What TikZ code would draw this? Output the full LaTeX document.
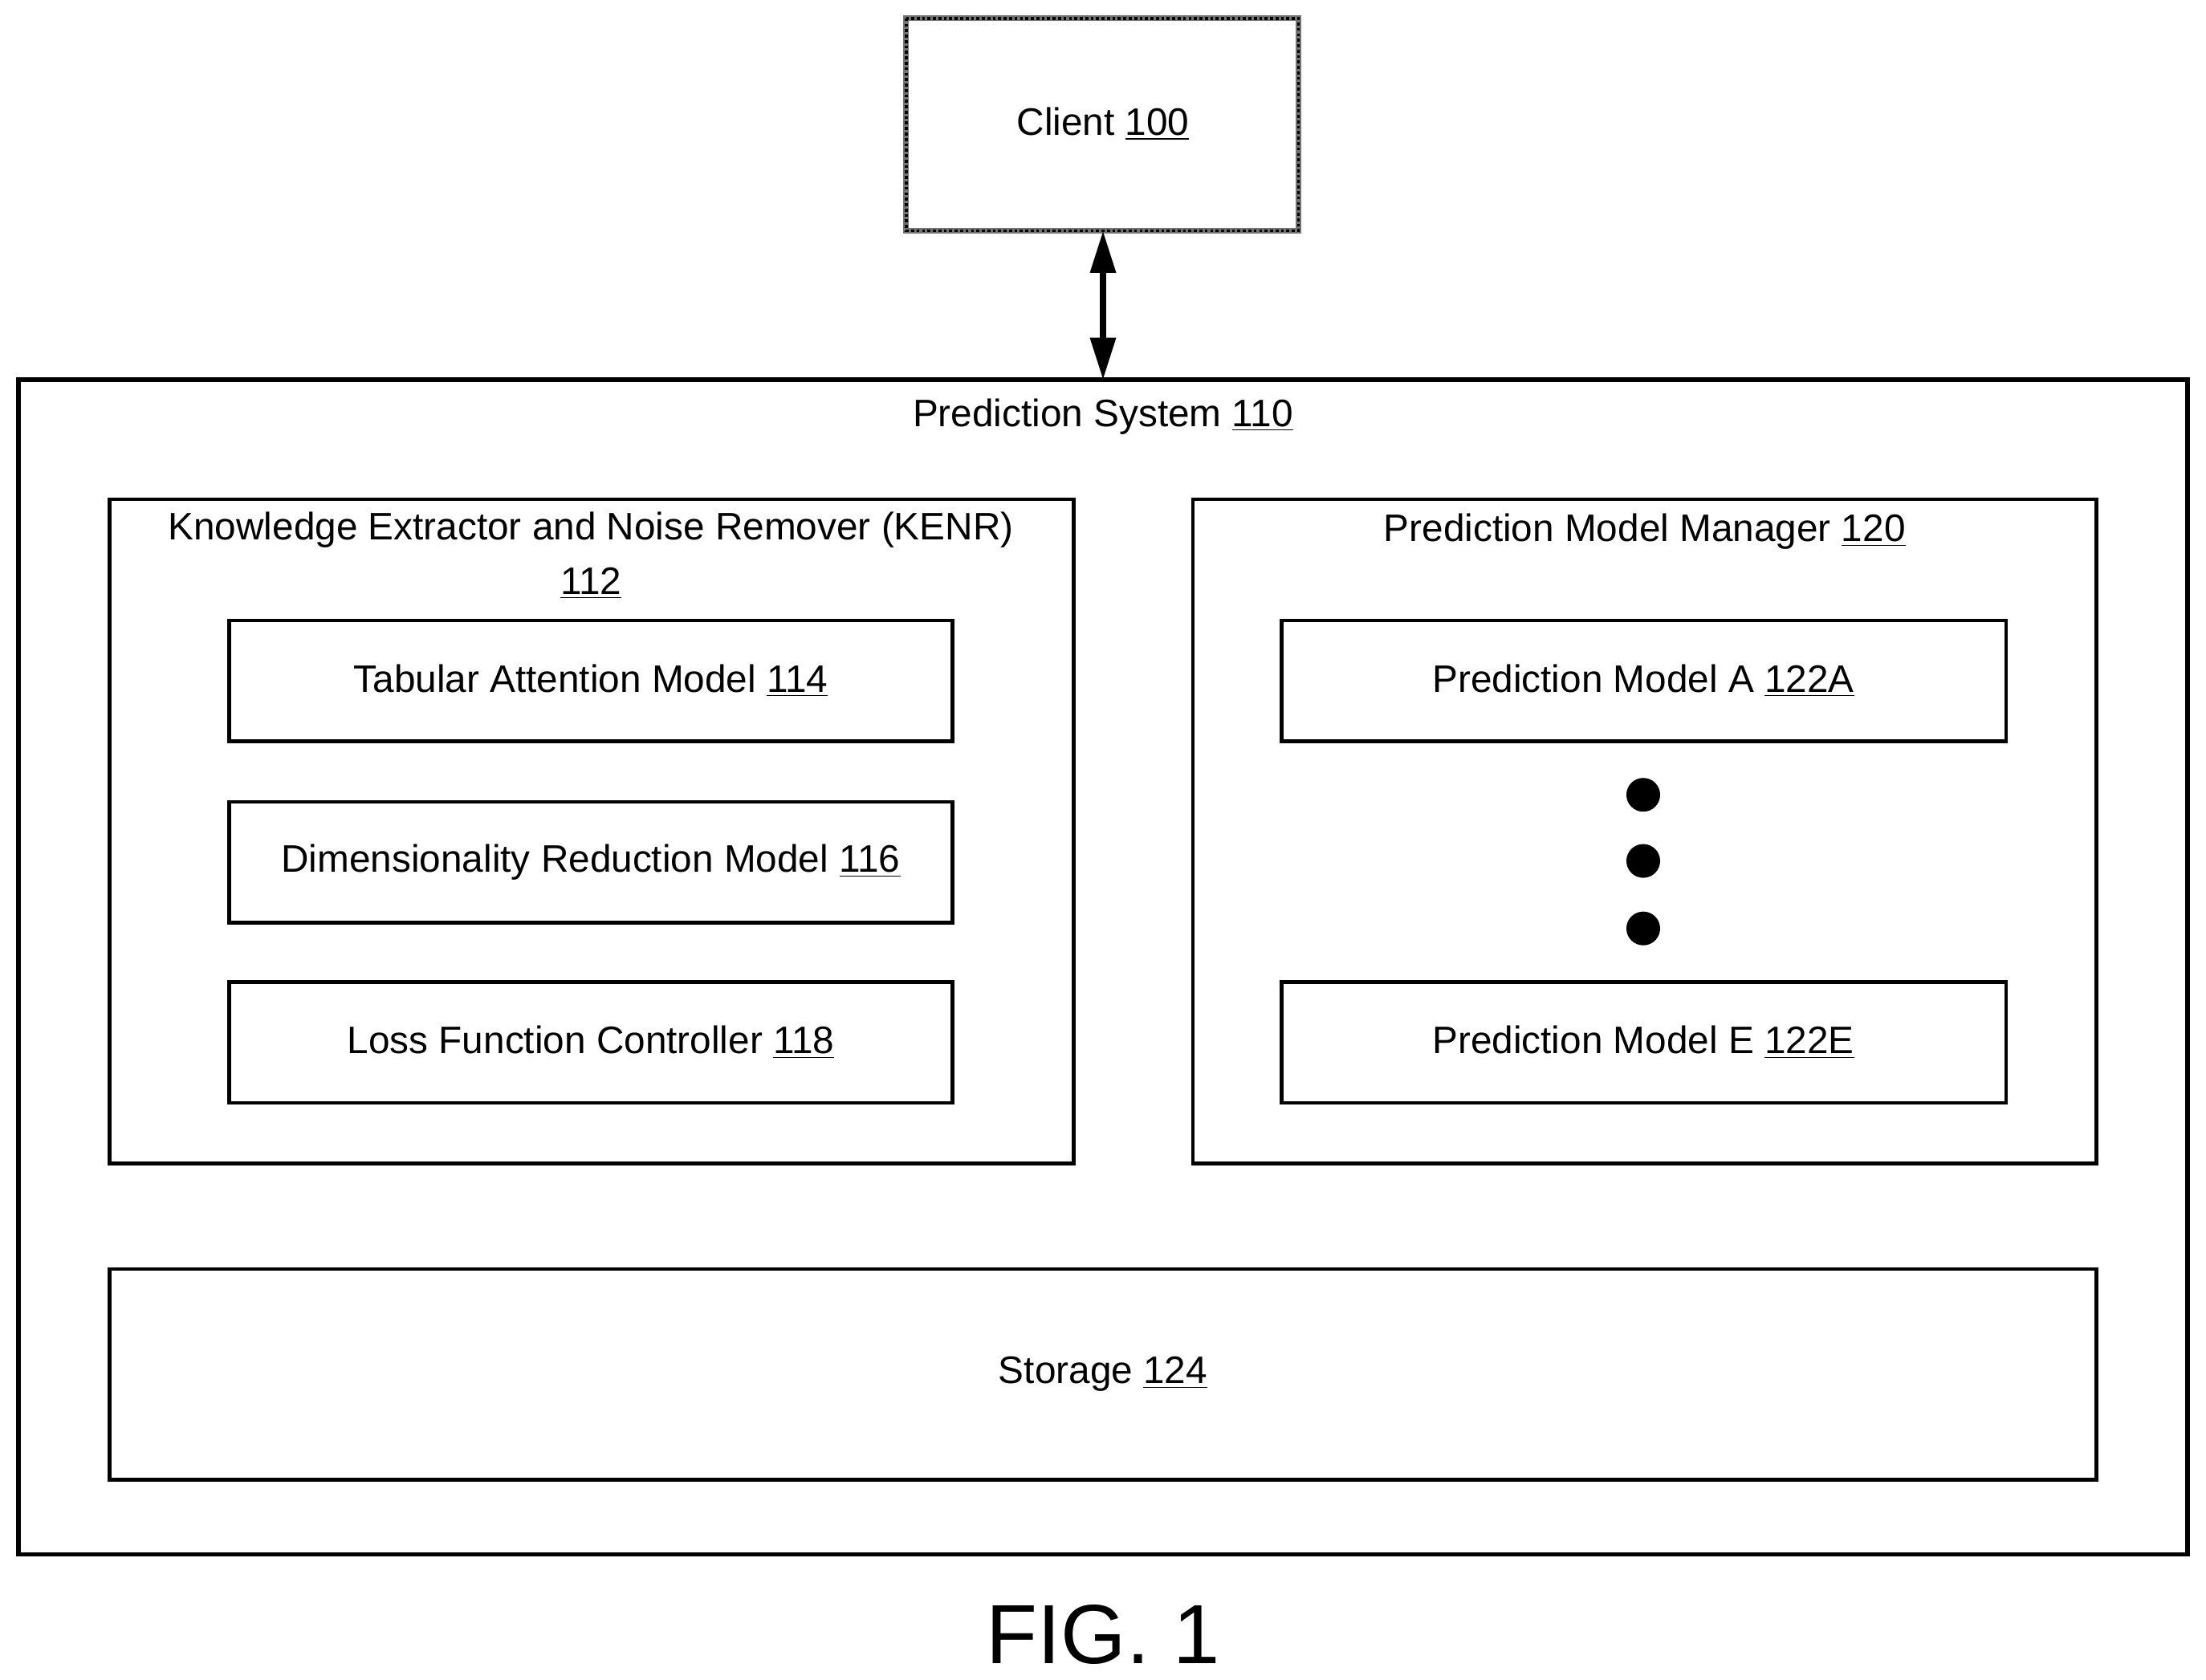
\documentclass[tikz,border=0pt]{standalone}
\usepackage{fontspec}
\setmainfont{Liberation Sans}
\usetikzlibrary{arrows.meta}
\newcommand{\ul}[1]{\underline{#1}}
\begin{document}
\begin{tikzpicture}[x=0.02cm,y=-0.02cm,
  box/.style={draw,line width=1.5pt},
  lbl/.style={font=\fontsize{15.5}{18}\selectfont,inner sep=0pt},
  dot/.style={circle,fill,inner sep=0pt,minimum size=0.48cm}]
\useasboundingbox (0,0) rectangle (1568,1194);
% client
\draw[line width=2.4pt,black!55] (644,13) rectangle (923,164);
\draw[line width=1.2pt,densely dotted] (644,13) rectangle (923,164);
\node[lbl] (client) at (784,88) {Client \ul{100}};
\coordinate (cb) at (784,164);
% prediction system
\draw[box,line width=1.8pt] (13,270) rectangle (1555,1105);
\coordinate (pt) at (784,270);
\node[lbl] (ps) at (784,296) {Prediction System \ul{110}};
\draw[line width=2.5pt,{Triangle[length=0.6cm,width=0.35cm]}-{Triangle[length=0.6cm,width=0.35cm]}] (cb) -- (pt);
% KENR
\draw[box] (78,355) rectangle (763,827);
\node[lbl,align=center] (kenr) at (420,395) {Knowledge Extractor and Noise Remover (KENR)\\[4pt]\ul{112}};
\draw[box] (163,441) rectangle (677,527);
\node[lbl] (tab) at (420,484) {Tabular Attention Model \ul{114}};
\draw[box] (163,570) rectangle (677,656);
\node[lbl] (dim) at (420,613) {Dimensionality Reduction Model \ul{116}};
\draw[box] (163,698) rectangle (677,784);
\node[lbl] (loss) at (420,741) {Loss Function Controller \ul{118}};
% PMM
\draw[box] (848,355) rectangle (1490,827);
\node[lbl] (pmm) at (1169,378) {Prediction Model Manager \ul{120}};
\draw[box] (911,441) rectangle (1426,527);
\node[lbl] (pa) at (1168,484) {Prediction Model A \ul{122A}};
\draw[box] (911,698) rectangle (1426,784);
\node[lbl] (pe) at (1168,741) {Prediction Model E \ul{122E}};
\node[dot] (d1) at (1168,565) {};
\node[dot] (d2) at (1168,612) {};
\node[dot] (d3) at (1168,660) {};
% storage
\draw[box] (78,902) rectangle (1490,1052);
\node[lbl] (st) at (784,977) {Storage \ul{124}};
\node[font=\fontsize{34}{40}\selectfont,inner sep=0pt] (fig) at (784,1162) {FIG. 1};
\end{tikzpicture}
\end{document}
